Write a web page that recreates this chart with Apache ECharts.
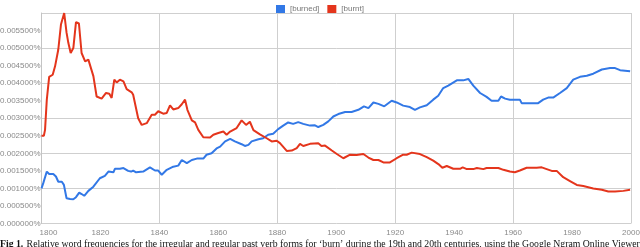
<!DOCTYPE html>
<html>
<head>
<meta charset="utf-8">
<script src="https://cdn.jsdelivr.net/npm/echarts@6/dist/echarts.min.js"></script>
<style>
html,body{margin:0;padding:0;background:#fff;}
#c{width:640px;height:247px;}
</style>
</head>
<body>
<div id="c"></div>
<script>
// Values are in percent units (0.0025 means 0.002500%)
const burnedYears = [1800,1800.6,1801.8,1802.6,1804.0,1804.9,1805.7,1806.9,1807.6,1808.5,1809.7,1810.8,1811.7,1812.8,1813.6,1814.5,1815.9,1817.6,1819.8,1821.5,1822.7,1824.4,1824.9,1826.6,1827.8,1829.4,1830.4,1831.1,1832.1,1834.5,1836.8,1838.5,1839.6,1840.8,1842.5,1844.7,1846.4,1847.6,1849.3,1851.0,1852.7,1854.9,1856.0,1857.7,1859.4,1860.6,1862.3,1864.0,1865.6,1867.9,1869.0,1870.2,1871.3,1873.6,1875.2,1876.9,1878.6,1880.3,1882.0,1883.7,1885.4,1887.1,1888.8,1891.1,1892.8,1893.9,1895.6,1897.3,1899.0,1900.7,1903.0,1905.2,1907.5,1909.4,1910.9,1912.6,1914.3,1916.3,1918.8,1920.5,1922.7,1925.0,1926.7,1928.4,1930.7,1932.9,1934.6,1936.3,1938.0,1940.9,1943.1,1944.8,1946.5,1948.8,1951.0,1952.7,1955.0,1955.9,1957.3,1958.9,1962.3,1962.9,1967.4,1968.5,1970.2,1971.9,1973.6,1975.9,1978.2,1980.4,1982.7,1985.0,1987.2,1990.1,1992.9,1994.6,1996.3,1999.7];
const burnedValues = [0.00100,0.00115,0.00148,0.00141,0.00141,0.00134,0.00119,0.00119,0.00110,0.00072,0.00070,0.00069,0.00075,0.00088,0.00084,0.00079,0.00093,0.00105,0.00129,0.00136,0.00148,0.00146,0.00156,0.00156,0.00158,0.00150,0.00148,0.00151,0.00146,0.00148,0.00160,0.00151,0.00151,0.00139,0.00153,0.00162,0.00165,0.00181,0.00172,0.00181,0.00185,0.00185,0.00196,0.00200,0.00214,0.00219,0.00234,0.00241,0.00234,0.00226,0.00221,0.00224,0.00234,0.00240,0.00243,0.00253,0.00256,0.00269,0.00279,0.00288,0.00284,0.00289,0.00284,0.00279,0.00280,0.00275,0.00281,0.00291,0.00305,0.00312,0.00318,0.00318,0.00324,0.00334,0.00329,0.00345,0.00341,0.00334,0.00350,0.00345,0.00336,0.00332,0.00324,0.00331,0.00337,0.00353,0.00364,0.00386,0.00393,0.00408,0.00408,0.00412,0.00393,0.00372,0.00361,0.00350,0.00350,0.00362,0.00356,0.00353,0.00353,0.00343,0.00343,0.00343,0.00353,0.00359,0.00359,0.00372,0.00386,0.00410,0.00418,0.00421,0.00427,0.00439,0.00443,0.00443,0.00437,0.00434];

const burntYears = [1800,1800.8,1801.2,1801.8,1802.6,1803.8,1804.6,1805.7,1806.6,1807.7,1808.5,1809.1,1809.9,1810.8,1811.7,1812.7,1813.6,1814.8,1815.9,1817.6,1818.7,1820.4,1821.9,1823.0,1823.8,1824.7,1825.5,1826.6,1827.8,1828.9,1830.6,1831.1,1832.8,1834.0,1835.7,1836.2,1837.4,1838.5,1839.6,1841.3,1842.5,1843.6,1844.7,1846.4,1847.6,1848.7,1849.5,1851.0,1852.1,1853.2,1854.9,1857.2,1858.3,1860.0,1861.7,1862.8,1864.0,1866.2,1867.9,1869.4,1870.7,1871.9,1874.1,1876.4,1878.1,1879.8,1880.9,1883.2,1884.9,1886.6,1887.7,1888.8,1891.1,1893.9,1895.0,1896.2,1898.5,1900.2,1902.4,1904.7,1906.9,1909.2,1910.9,1912.6,1914.3,1916.0,1918.2,1920.5,1922.7,1923.9,1925.6,1928.4,1930.7,1932.9,1935.0,1936.0,1937.5,1939.7,1942.0,1942.9,1944.3,1946.5,1947.7,1949.9,1951.0,1953.3,1955.0,1956.7,1958.9,1960.6,1962.3,1964.6,1968.0,1969.7,1971.4,1973.1,1974.8,1977.0,1979.3,1981.6,1983.8,1987.2,1990.1,1992.3,1994.6,1997.4,1999.7];
const burntValues = [0.00250,0.00250,0.00267,0.00353,0.00418,0.00424,0.00448,0.00496,0.00567,0.00600,0.00544,0.00515,0.00486,0.00500,0.00574,0.00570,0.00486,0.00462,0.00467,0.00420,0.00362,0.00356,0.00372,0.00370,0.00358,0.00410,0.00402,0.00410,0.00405,0.00383,0.00374,0.00367,0.00300,0.00281,0.00286,0.00286,0.00310,0.00310,0.00320,0.00313,0.00315,0.00337,0.00325,0.00329,0.00340,0.00353,0.00324,0.00294,0.00288,0.00267,0.00246,0.00245,0.00253,0.00258,0.00262,0.00253,0.00262,0.00272,0.00294,0.00281,0.00290,0.00266,0.00254,0.00243,0.00234,0.00236,0.00229,0.00207,0.00208,0.00215,0.00227,0.00221,0.00227,0.00229,0.00221,0.00222,0.00208,0.00198,0.00186,0.00196,0.00195,0.00198,0.00188,0.00181,0.00181,0.00174,0.00174,0.00186,0.00196,0.00196,0.00202,0.00198,0.00189,0.00179,0.00167,0.00159,0.00164,0.00156,0.00156,0.00160,0.00155,0.00155,0.00158,0.00155,0.00158,0.00158,0.00158,0.00153,0.00148,0.00146,0.00151,0.00159,0.00159,0.00160,0.00155,0.00150,0.00150,0.00132,0.00121,0.00110,0.00107,0.00100,0.00096,0.00091,0.00091,0.00093,0.00096];

const seriesNames = ['[burned]', '[burnt]'];
const xMin = 1800, xMax = 2000, xLabelStep = 20, xGridStep = 40;
const yMin = 0, yMax = 0.006, yLabelStep = 0.0005, yGridStep = 0.001;
const captionLead = 'Fig 1.';
const caption = "Relative word frequencies for the irregular and regular past verb forms for \u2018burn\u2019 during the 19th and 20th centuries, using the Google Ngram Online Viewer";

const chart = echarts.init(document.getElementById('c'), null, {renderer: 'canvas'});
const zip = (xs, ys) => xs.map((x, i) => [x, ys[i]]);
const axisFont = {fontFamily: 'Arial, "Liberation Sans", sans-serif', fontSize: 8, color: '#8a8a8a'};

chart.setOption({
  animation: false,
  backgroundColor: '#fff',
  legend: {
    top: 0, left: 'center',
    icon: 'rect', itemWidth: 9, itemHeight: 8, itemGap: 8,
    textStyle: {fontFamily: 'Arial, "Liberation Sans", sans-serif', fontSize: 8, color: '#777'},
    data: seriesNames
  },
  grid: {left: 41.5, right: 9, top: 13, bottom: 23.5, containLabel: false, outerBoundsMode: 'none'},
  xAxis: [
    {type: 'value', min: xMin, max: xMax, interval: xLabelStep,
     axisLine: {show: false}, axisTick: {show: false}, splitLine: {show: false},
     axisLabel: Object.assign({margin: 5,
       formatter: v => v === xMin ? '{first|' + v + '}' : String(v),
       rich: {first: {padding: [0, 0, 0, 14], fontSize: 8, color: '#8a8a8a', fontFamily: 'Arial, "Liberation Sans", sans-serif'}}
     }, axisFont)},
    {type: 'value', min: xMin, max: xMax, interval: xGridStep, position: 'bottom',
     axisLine: {show: false}, axisTick: {show: false}, axisLabel: {show: false},
     splitLine: {show: true, lineStyle: {color: '#cfcfcf', width: 1}}}
  ],
  yAxis: [
    {type: 'value', min: yMin, max: yMax, interval: yLabelStep,
     axisLine: {show: true, lineStyle: {color: '#c4c4c4'}}, axisTick: {show: false}, splitLine: {show: false},
     axisLabel: Object.assign({margin: 1, formatter: v => v >= 0.00599 ? '' : v.toFixed(6) + '%'}, axisFont)},
    {type: 'value', min: yMin, max: yMax, interval: yGridStep, position: 'left',
     axisLine: {show: false}, axisTick: {show: false}, axisLabel: {show: false},
     splitLine: {show: true, lineStyle: {color: '#cfcfcf', width: 1}}}
  ],
  series: [
    {name: seriesNames[0], type: 'line', xAxisIndex: 0, yAxisIndex: 0, data: zip(burnedYears, burnedValues),
     showSymbol: false, symbol: 'none', lineStyle: {color: '#3278e6', width: 2}, itemStyle: {color: '#3278e6'}, z: 3},
    {name: seriesNames[1], type: 'line', xAxisIndex: 0, yAxisIndex: 0, data: zip(burntYears, burntValues),
     showSymbol: false, symbol: 'none', lineStyle: {color: '#e4351c', width: 2}, itemStyle: {color: '#e4351c'}, z: 3}
  ],
  graphic: [{
    type: 'text', left: 0, top: 238,
    style: {
      text: '{b|' + captionLead + '} {n|' + caption + '}',
      rich: {
        b: {fontWeight: 'bold', fontFamily: '"Liberation Serif", serif', fontSize: 9.75, fill: '#111'},
        n: {fontFamily: '"Liberation Serif", serif', fontSize: 9.75, fill: '#111'}
      }
    }
  }]
});
</script>
</body>
</html>
